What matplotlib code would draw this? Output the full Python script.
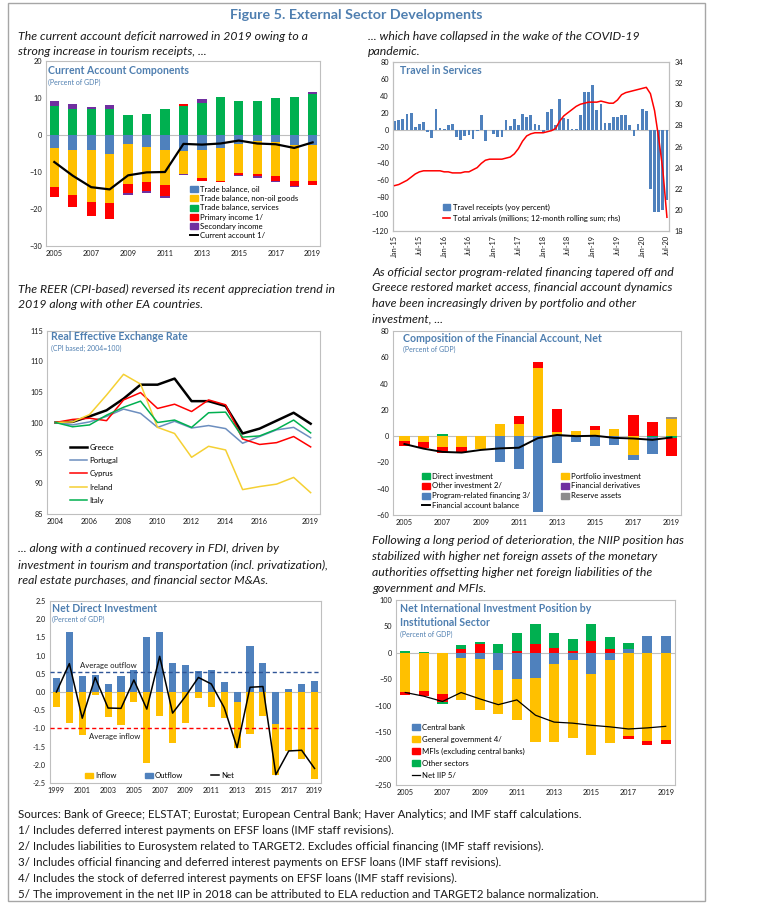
import numpy as np
import matplotlib.pyplot as plt
from matplotlib.patches import Patch, Rectangle
from matplotlib.lines import Line2D

plt.rcParams['font.family'] = ['Lato', 'DejaVu Sans']

# ---- data -------------------------------------------------------------
ca_years = list(range(2005, 2020))
ca_oil = [-3.4, -4.1, -4.1, -5.0, -2.5, -3.2, -4.1, -4.4, -4.1, -3.6, -2.3, -1.6, -2.0, -2.7, -2.7]
ca_nonoil = [-10.7, -12.1, -13.9, -13.5, -10.7, -9.5, -9.3, -6.1, -7.5, -8.9, -7.9, -8.9, -9.2, -9.6, -9.6]
ca_services = [7.9, 7.0, 7.1, 7.1, 5.3, 5.8, 7.1, 7.9, 8.6, 10.2, 9.3, 9.1, 10.0, 10.4, 11.1]
ca_primary = [-2.6, -3.3, -3.8, -4.2, -2.5, -2.3, -3.0, 0.5, -0.7, -0.1, -0.7, -0.6, -1.1, -1.5, -1.3]
ca_secondary = [1.4, 1.5, 0.6, 1.1, -0.6, -0.8, -0.7, -0.4, 1.1, -0.1, -0.2, -0.5, -0.4, -0.3, 0.4]
ca_balance = [-7.3, -11.0, -14.1, -14.7, -10.9, -10.1, -10.0, -2.4, -2.6, -2.3, -1.5, -2.3, -2.5, -3.5, -2.0]

travel_ticklabels = ['Jan-15', 'Jul-15', 'Jan-16', 'Jul-16', 'Jan-17', 'Jul-17',
                     'Jan-18', 'Jul-18', 'Jan-19', 'Jul-19', 'Jan-20', 'Jul-20']
travel_receipts = [9.8, 11, 12, 18.5, 19.7, 3, 7, 9, -3, -10, 24.8, 2,
                   1, 5, 7, -9, -12, -8, -6, -11, -2, 17, -14, -1,
                   -5, -9, -9, 11, 4, 13, 6, 18, 15, 17, 7, 6,
                   -3, 21, 24, 5, 36, 14, 13, 1, 0.5, 17.7, 44.5, 44,
                   53, 23.6, 30.7, 7.5, 8, 14.6, 14.6, 17, 17.7, 5, -7, 6.7,
                   24.8, 22.4, -70, -98, -98, -95, -83]
total_arrivals = [22.3, 22.4, 22.6, 22.8, 23.1, 23.4, 23.6, 23.7, 23.7, 23.7, 23.7, 23.7,
                  23.6, 23.6, 23.5, 23.5, 23.5, 23.6, 23.6, 23.8, 24.0, 24.4, 24.7, 24.8,
                  24.8, 24.8, 24.8, 24.9, 25.0, 25.3, 25.8, 26.5, 27.0, 27.2, 27.3, 27.3,
                  27.3, 27.4, 27.5, 27.7, 28.4, 28.9, 29.2, 29.5, 29.8, 30.0, 30.1, 30.2,
                  30.2, 30.2, 30.3, 30.2, 30.1, 30.1, 30.4, 30.9, 31.1, 31.2, 31.3, 31.4,
                  31.5, 31.6, 31.0, 29.4, 26.8, 23.8, 19.3]

reer_years = list(range(2004, 2020))
reer_greece = [100, 100.1, 101.0, 102.0, 103.9, 106.2, 106.2, 107.2, 103.5, 103.5, 102.7, 98.2, 99.0, 100.3, 101.6, 99.8]
reer_portugal = [100, 99.6, 100.1, 101.0, 102.2, 101.5, 99.2, 100.2, 99.1, 99.5, 99.0, 96.6, 97.7, 98.8, 99.2, 97.5]
reer_cyprus = [100, 100.5, 100.7, 100.3, 103.7, 104.9, 102.3, 103.0, 101.8, 103.7, 102.9, 97.3, 96.4, 96.7, 97.7, 96.0]
reer_ireland = [100, 100.1, 101.3, 104.5, 107.9, 106.3, 99.2, 98.2, 94.3, 96.1, 95.5, 89.0, 89.5, 89.9, 91.0, 88.5]
reer_italy = [100, 99.3, 99.6, 101.2, 102.5, 103.5, 100.0, 100.4, 99.2, 101.6, 101.7, 97.6, 97.8, 98.9, 100.4, 98.3]
reer_ticks = [2004, 2006, 2008, 2010, 2012, 2014, 2016, 2019]

fa_years = list(range(2005, 2020))
fa_direct = [0, 0, 1.3, 0, 0, 0, 0, 0, 0, 0, 0, 0, 0, -0.8, -1.5]
fa_portfolio = [-3.6, -4.3, -8.1, -8.1, -9.5, 9.1, 9.1, 52.0, 3.3, 4.0, 4.6, 5.6, -14.0, 0, 12.7]
fa_other = [-3.8, -5.1, -5.1, -4.3, 0, 0, 6.3, 4.6, 17.2, 0, 3.0, 0, 16.0, 10.4, -13.7]
fa_derivatives = [0] * 15
fa_program = [0, 0, 0, 0, 0, -19.5, -25.0, -58.0, -20.3, -4.3, -7.6, -7.1, -4.3, -12.9, 0]
fa_reserve = [0, 0, 0, 0, 0, 0, 0, 0, 0, 0, 0, 0, 0, 0, 1.5]
fa_balance = [-6.0, -9.5, -12.0, -12.5, -10.5, -9.3, -8.8, -1.5, 0.9, 0.0, 0.3, -1.3, -1.8, -2.8, -1.0]

fdi_years = list(range(1999, 2020))
fdi_outflow = [0.38, 1.65, 0.45, 0.47, 0.23, 0.43, 0.6, 1.5, 1.65, 0.8, 0.73, 0.58, 0.6, 0.27, -0.28,
               1.27, 0.8, -0.87, 0.08, 0.23, 0.29]
fdi_inflow = [-0.4, -0.85, -1.17, -0.07, -0.68, -0.9, -0.27, -1.95, -0.67, -1.4, -0.85, -0.17, -0.4, -0.72,
              -1.25, -1.15, -0.65, -1.41, -1.62, -1.85, -2.4]
fdi_net = [0.0, 0.78, -0.72, 0.4, -0.44, -0.45, 0.33, -0.47, 0.98, -0.58, -0.12, 0.4, 0.22, -0.43, -1.53,
           0.13, 0.15, -2.27, -1.62, -1.6, -2.1]
fdi_avg_outflow = 0.56
fdi_avg_inflow = -1.0

niip_years = list(range(2005, 2020))
niip_central_bank = [0, 0, 0, -9, -12, -33, -50, -47, -22, -13, -40, -13, 7, 31.6, 31]
niip_government = [-74, -73, -78.5, -81, -95.6, -82, -76.6, -122, -146, -148, -153, -157, -158, -166, -164.5]
niip_mfis = [-6, -9, -14.5, 7, 16.5, 0, 3, 17, 10, 3, 23, 7.5, -4.5, -8, -7.5]
niip_other = [4, 2, -3, 8, 3.8, 16.5, 35.5, 37, 27, 24, 32, 22.5, 11.5, 0, 1]
niip_net = [-75, -82, -92, -75, -87, -98, -89, -118, -131, -133, -137, -140, -144, -142, -139]

# ---- style ------------------------------------------------------------
BLUE = '#4F81BD'
GOLD = '#FFC000'
GREEN = '#00B050'
RED = '#FF0000'
PURPLE = '#7030A0'
GREY = '#8C8C8C'
TITLE = '#4F7FB0'
TXT = '#1a1a1a'

W, H = 773, 910
fig = plt.figure(figsize=(W / 100, H / 100), dpi=100)


def add_ax(l, t, r, b):
    ax = fig.add_axes([l / W, 1 - b / H, (r - l) / W, (b - t) / H])
    for s in ax.spines.values():
        s.set_color('#BFBFBF')
        s.set_linewidth(0.8)
    ax.tick_params(length=0, labelsize=5.3, pad=3, colors=TXT)
    return ax


def ftext(x, y, s, **kw):
    fig.text(x / W, 1 - y / H, s, **kw)


def text_lines(x, y0, dy, lines, **kw):
    for i, s in enumerate(lines):
        ftext(x, y0 + i * dy, s, va='center', ha='left', **kw)


def stack_bars(ax, x, series, colors, width):
    pos = np.zeros(len(x))
    neg = np.zeros(len(x))
    for vals, c in zip(series, colors):
        v = np.asarray(vals, float)
        bottom = np.where(v >= 0, pos, neg)
        ax.bar(x, v, width, bottom=bottom, color=c, linewidth=0, zorder=2)
        pos = pos + np.clip(v, 0, None)
        neg = neg + np.clip(v, None, 0)


def panel_title(x, y, lines, sub, sub_y):
    for i, s in enumerate(lines):
        ftext(x, y + i * 14, s, color=TITLE, fontsize=7.6, fontweight='bold', va='center')
    ftext(x, sub_y, sub, color=TITLE, fontsize=5.0, va='center')


def legend_kw(spacing):
    return dict(frameon=False, fontsize=5.6, handlelength=1.0, handleheight=0.8,
                handletextpad=0.3, labelspacing=spacing, borderpad=0, borderaxespad=0)


# ---- outer frame, headings -------------------------------------------
fig.patches.append(Rectangle((8 / W, 1 - 901 / H), 697 / W, 898 / H, transform=fig.transFigure,
                             fill=False, ec='#A6A6A6', lw=1.0))
ftext(356, 15, 'Figure 5. External Sector Developments', ha='center', va='center',
      fontsize=10.3, fontweight='bold', color=TITLE)

cap = dict(fontsize=8.8, style='italic', color=TXT)
text_lines(18, 36, 15.5, ['The current account deficit narrowed in 2019 owing to a',
                          'strong increase in tourism receipts, ...'], **cap)
text_lines(368, 36, 15.5, ['... which have collapsed in the wake of the COVID-19',
                           'pandemic.'], **cap)
text_lines(18, 289, 15.5, ['The REER (CPI-based) reversed its recent appreciation trend in',
                           '2019 along with other EA countries.'], **cap)
text_lines(372, 272, 15.8, ['As official sector program-related financing tapered off and',
                            'Greece restored market access, financial account dynamics',
                            'have been increasingly driven by portfolio and other',
                            'investment, ...'], **cap)
text_lines(18, 549, 16, ['... along with a continued recovery in FDI, driven by',
                         'investment in tourism and transportation (incl. privatization),',
                         'real estate purchases, and financial sector M&As.'], **cap)
text_lines(372, 541, 15.8, ['Following a long period of deterioration, the NIIP position has',
                            'stabilized with higher net foreign assets of the monetary',
                            'authorities offsetting higher net foreign liabilities of the',
                            'government and MFIs.'], **cap)
text_lines(18, 814, 16, ['Sources: Bank of Greece; ELSTAT; Eurostat; European Central Bank; Haver Analytics; and IMF staff calculations.',
                         '1/ Includes deferred interest payments on EFSF loans (IMF staff revisions).',
                         '2/ Includes liabilities to Eurosystem related to TARGET2. Excludes official financing (IMF staff revisions).',
                         '3/ Includes official financing and deferred interest payments on EFSF loans (IMF staff revisions).',
                         '4/ Includes the stock of deferred interest payments on EFSF loans (IMF staff revisions).',
                         '5/ The improvement in the net IIP in 2018 can be attributed to ELA reduction and TARGET2 balance normalization.'],
           fontsize=8.3, color=TXT)

# ---- panel 1: current account -----------------------------------------
ax = add_ax(46, 61, 320, 246)
stack_bars(ax, ca_years, [ca_oil, ca_nonoil, ca_services, ca_primary, ca_secondary],
           [BLUE, GOLD, GREEN, RED, PURPLE], 0.5)
ax.axhline(0, color='#BFBFBF', lw=0.8, zorder=1)
ax.plot(ca_years, ca_balance, color='black', lw=1.6, zorder=3)
ax.set_xlim(2004.55, 2019.4)
ax.set_ylim(-30, 20)
ax.set_yticks(range(-30, 21, 10))
ax.set_xticks(range(2005, 2020, 2))
h = [Patch(color=BLUE), Patch(color=GOLD), Patch(color=GREEN), Patch(color=RED), Patch(color=PURPLE),
     Line2D([], [], color='black', lw=1.4)]
ax.legend(h, ['Trade balance, oil', 'Trade balance, non-oil goods', 'Trade balance, services',
              'Primary income 1/', 'Secondary income', 'Current account 1/'],
          loc='upper left', bbox_to_anchor=(0.525, 0.325), **legend_kw(0.28))
panel_title(48, 71, ['Current Account Components'], '(Percent of GDP)', 82)

# ---- panel 2: travel ---------------------------------------------------
ax = add_ax(393, 62, 669, 231)
months = np.arange(len(travel_receipts))
ax.bar(months, travel_receipts, 0.68, color=BLUE, linewidth=0, zorder=2)
ax.axhline(0, color='#BFBFBF', lw=0.8, zorder=1)
ax.set_xlim(-0.4, 66.5)
ax.set_ylim(-120, 80)
ax.set_yticks(range(-120, 81, 20))
ax.set_xticks(months[::6])
ax.set_xticklabels(travel_ticklabels, rotation=90)
ax2 = ax.twinx()
ax2.plot(months, total_arrivals, color=RED, lw=1.1, zorder=3)
ax2.set_ylim(18, 34)
ax2.set_yticks(range(18, 35, 2))
ax2.tick_params(length=0, labelsize=5.3, pad=4, colors=TXT)
for s in ax2.spines.values():
    s.set_color('#BFBFBF')
    s.set_linewidth(0.8)
ax.legend([Patch(color=BLUE), Line2D([], [], color=RED, lw=1.2)],
          ['Travel receipts (yoy percent)', 'Total arrivals (millions; 12-month rolling sum; rhs)'],
          loc='upper left', bbox_to_anchor=(0.18, 0.16), **legend_kw(0.5))
panel_title(400, 70, ['Travel in Services'], '', 0)

# ---- panel 3: REER -----------------------------------------------------
ax = add_ax(47, 331, 320, 514)
ax.plot(reer_years, reer_greece, color='black', lw=1.8, label='Greece')
ax.plot(reer_years, reer_portugal, color='#6C8EBF', lw=1.1, label='Portugal')
ax.plot(reer_years, reer_cyprus, color=RED, lw=1.1, label='Cyprus')
ax.plot(reer_years, reer_ireland, color='#F5D033', lw=1.1, label='Ireland')
ax.plot(reer_years, reer_italy, color=GREEN, lw=1.1, label='Italy')
ax.set_xlim(2003.5, 2019.55)
ax.set_ylim(85, 115)
ax.set_yticks(range(85, 116, 5))
ax.set_xticks(reer_ticks)
ax.legend(loc='upper left', bbox_to_anchor=(0.084, 0.385), **dict(legend_kw(0.82), handlelength=2.2))
panel_title(51, 337, ['Real Effective Exchange Rate'], '(CPI based; 2004=100)', 348)

# ---- panel 4: financial account ---------------------------------------
ax = add_ax(393, 331, 681, 515)
stack_bars(ax, fa_years, [fa_direct, fa_portfolio, fa_other, fa_derivatives, fa_program, fa_reserve],
           [GREEN, GOLD, RED, PURPLE, BLUE, GREY], 0.55)
ax.axhline(0, color='#BFBFBF', lw=0.8, zorder=1)
ax.plot(fa_years, fa_balance, color='black', lw=1.4, zorder=3)
ax.set_xlim(2004.4, 2019.5)
ax.set_ylim(-60, 80)
ax.set_yticks(range(-60, 81, 20))
ax.set_xticks(range(2005, 2020, 2))
h = [Patch(color=GREEN), Patch(color=RED), Patch(color=BLUE), Line2D([], [], color='black', lw=1.4),
     Patch(color=GOLD), Patch(color=PURPLE), Patch(color=GREY)]
ax.legend(h, ['Direct investment', 'Other investment 2/', 'Program-related financing 3/',
              'Financial account balance', 'Portfolio investment', 'Financial derivatives', 'Reserve assets'],
          ncol=2, columnspacing=4.0, loc='upper left', bbox_to_anchor=(0.1, 0.23), **legend_kw(0.36))
panel_title(403, 339, ['Composition of the Financial Account, Net'], '(Percent of GDP)', 349)

# ---- panel 5: net direct investment -----------------------------------
ax = add_ax(50, 601, 321, 783)
stack_bars(ax, fdi_years, [fdi_outflow, fdi_inflow], [BLUE, GOLD], 0.55)
ax.axhline(0, color='#BFBFBF', lw=0.8, zorder=1)
ax.axhline(fdi_avg_outflow, color='#2F5597', lw=1.0, ls=(0, (3, 2)), zorder=3)
ax.axhline(fdi_avg_inflow, color=RED, lw=1.0, ls=(0, (3, 2)), zorder=3)
ax.plot(fdi_years, fdi_net, color='black', lw=1.1, zorder=4)
ax.text(2000.8, 0.74, 'Average outflow', fontsize=5.6, va='center', color=TXT)
ax.text(2001.5, -1.21, 'Average inflow', fontsize=5.6, va='center', color=TXT)
ax.set_xlim(1998.5, 2019.5)
ax.set_ylim(-2.5, 2.5)
ax.set_yticks(np.arange(-2.5, 2.51, 0.5))
ax.set_yticklabels([f'{v:.1f}' for v in np.arange(-2.5, 2.51, 0.5)])
ax.set_xticks(range(1999, 2020, 2))
ax.legend([Patch(color=GOLD), Patch(color=BLUE), Line2D([], [], color='black', lw=1.1)],
          ['Inflow', 'Outflow', 'Net'], ncol=3, columnspacing=3.6,
          loc='center left', bbox_to_anchor=(0.13, 0.04), **legend_kw(0.3))
panel_title(52, 608, ['Net Direct Investment'], '(Percent of GDP)', 619)

# ---- panel 6: NIIP -----------------------------------------------------
ax = add_ax(396, 600, 675, 785)
stack_bars(ax, niip_years, [niip_central_bank, niip_government, niip_mfis, niip_other],
           [BLUE, GOLD, RED, GREEN], 0.55)
ax.axhline(0, color='#BFBFBF', lw=0.8, zorder=1)
ax.plot(niip_years, niip_net, color='black', lw=0.9, zorder=3)
ax.set_xlim(2004.5, 2019.5)
ax.set_ylim(-250, 100)
ax.set_yticks(range(-250, 101, 50))
ax.set_xticks(range(2005, 2020, 2))
h = [Patch(color=BLUE), Patch(color=GOLD), Patch(color=RED), Patch(color=GREEN),
     Line2D([], [], color='black', lw=0.9)]
ax.legend(h, ['Central bank', 'General government 4/', 'MFIs (excluding central banks)',
              'Other sectors', 'Net IIP 5/'],
          loc='upper left', bbox_to_anchor=(0.057, 0.33), **legend_kw(0.63))
panel_title(400, 608, ['Net International Investment Position by', 'Institutional Sector'],
            '(Percent of GDP)', 634)

fig.savefig('out.png', dpi=100)
